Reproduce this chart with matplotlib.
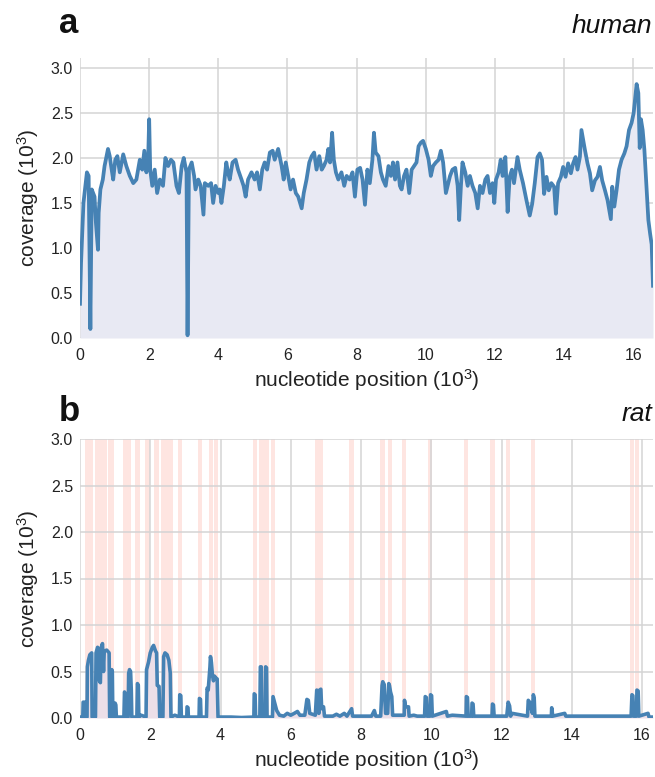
import matplotlib
matplotlib.use('Agg')
import matplotlib.pyplot as plt
import numpy as np

plt.rcParams['font.family'] = ['Liberation Sans', 'DejaVu Sans']
plt.rcParams['mathtext.fontset'] = 'custom'
plt.rcParams['mathtext.rm'] = 'Liberation Sans'
plt.rcParams['mathtext.it'] = 'Liberation Sans:italic'

# human mtDNA coverage (position in nt, coverage in 10^3)
human_pos = [0, 30, 100, 200, 250, 300, 340, 420, 460, 520, 540, 590, 660, 710, 810, 860, 900,
             960, 1020, 1080, 1150, 1250, 1340, 1440, 1540, 1630, 1730, 1800, 1860, 1920, 1970,
             2000, 2030, 2090, 2160, 2230, 2310, 2400, 2470, 2550, 2630, 2700, 2790, 2860, 2940,
             3000, 3080, 3110, 3150, 3230, 3300, 3340, 3420, 3490, 3570, 3610, 3710, 3790, 3850,
             3920, 4000, 4040, 4090, 4160, 4230, 4280, 4330, 4410, 4500, 4570, 4670, 4730, 4790,
             4860, 4960, 5050, 5120, 5200, 5270, 5340, 5410, 5490, 5570, 5630, 5730, 5830, 5890,
             5950, 6020, 6090, 6160, 6240, 6310, 6410, 6470, 6550, 6630, 6700, 6770, 6840, 6920,
             6990, 7050, 7130, 7180, 7230, 7290, 7340, 7400, 7470, 7560, 7640, 7710, 7800, 7880,
             7950, 8020, 8100, 8170, 8240, 8310, 8380, 8455, 8500, 8550, 8630, 8700, 8760, 8840,
             8920, 8990, 9050, 9110, 9180, 9250, 9300, 9370, 9440, 9520, 9590, 9660, 9730, 9790,
             9855, 9920, 10000, 10080, 10145, 10210, 10290, 10370, 10435, 10500, 10580, 10630,
             10700, 10770, 10850, 10920, 10965, 11015, 11060, 11140, 11210, 11275, 11350, 11430,
             11500, 11565, 11640, 11720, 11785, 11855, 11930, 11980, 12030, 12105, 12165, 12220,
             12300, 12365, 12425, 12490, 12550, 12650, 12715, 12810, 12910, 13005, 13075, 13150,
             13230, 13295, 13360, 13420, 13490, 13555, 13630, 13710, 13760, 13825, 13905, 13970,
             14040, 14115, 14195, 14260, 14330, 14385, 14455, 14500, 14550, 14600, 14675, 14745,
             14810, 14890, 14965, 15035, 15100, 15180, 15255, 15350, 15390, 15450, 15515, 15585,
             15660, 15740, 15805, 15875, 15950, 16010, 16050, 16095, 16145, 16185, 16220, 16270,
             16320, 16385, 16435, 16485, 16530, 16569]
human_cov = [0.38, 0.83, 1.50, 1.84, 1.80, 0.10, 1.65, 1.57, 1.28, 0.98, 1.39, 1.65, 1.76, 1.91, 2.10, 2.02, 1.91,
             1.76, 1.98, 2.02, 1.84, 2.04, 1.91, 1.80, 1.72, 1.76, 1.98, 1.87, 2.08, 1.84, 1.98,
             2.43, 1.87, 1.69, 1.87, 1.61, 1.76, 1.69, 2.00, 1.91, 1.98, 1.95, 1.69, 1.61, 1.91,
             2.00, 1.84, 0.03, 1.87, 1.95, 1.80, 1.65, 1.76, 1.69, 1.37, 1.72, 1.69, 1.72, 1.50,
             1.69, 1.61, 1.65, 1.50, 1.69, 1.95, 1.84, 1.76, 1.95, 1.98, 1.87, 1.76, 1.69, 1.57,
             1.76, 1.84, 1.76, 1.84, 1.65, 1.87, 1.95, 1.87, 2.06, 2.08, 1.98, 2.10, 1.91, 1.76,
             1.95, 1.80, 1.65, 1.76, 1.61, 1.57, 1.44, 1.61, 1.76, 1.95, 2.02, 2.06, 1.87, 2.02,
             1.87, 1.91, 1.98, 2.10, 1.95, 2.28, 1.98, 1.84, 1.76, 1.84, 1.69, 1.80, 1.76, 1.84,
             1.57, 1.87, 1.89, 1.76, 1.48, 1.87, 1.72, 1.98, 2.28, 2.06, 2.02, 1.84, 1.76, 1.69,
             1.91, 1.80, 1.95, 1.76, 1.95, 1.69, 1.65, 1.80, 1.87, 1.61, 1.87, 1.91, 1.95, 2.13,
             2.17, 2.19, 2.10, 1.98, 1.80, 1.91, 1.95, 1.98, 2.08, 1.95, 1.61, 1.69,
             1.80, 1.87, 1.89, 1.69, 1.31, 1.69, 1.95, 1.84, 1.69, 1.80, 1.69, 1.61,
             1.44, 1.69, 1.61, 1.76, 1.80, 1.61, 1.72, 1.50, 1.76, 1.84, 1.98, 1.80,
             2.01, 1.40, 1.79, 1.87, 1.72, 2.01, 1.87, 1.72, 1.53, 1.36, 1.49, 1.72,
             2.01, 2.05, 1.98, 1.60, 1.79, 1.64, 1.72, 1.68, 1.38, 1.72, 1.79, 1.90,
             1.79, 1.94, 1.83, 1.94, 2.01, 1.87, 2.01, 2.31, 2.20, 2.09, 1.94, 1.83,
             1.64, 1.75, 1.79, 1.90, 1.75, 1.64, 1.53, 1.32, 1.68, 1.46, 1.64, 1.87,
             1.98, 2.05, 2.13, 2.31, 2.39, 2.50, 2.65, 2.82, 2.72, 2.11, 2.43, 2.31,
             2.09, 1.64, 1.31, 1.16, 1.04, 0.58]

# rat mtDNA coverage (position in nt, coverage in 10^3)
rat_pos = [0, 80, 90, 150, 165, 200, 210, 240, 280, 333, 345, 440, 457, 500, 540, 552, 580, 600, 640,
           670, 690, 760, 829, 845, 890, 905, 920, 935, 985, 1000, 1020, 1035, 1250, 1267, 1290, 1305,
           1370, 1385, 1410, 1440, 1460, 1475, 1620, 1635, 1660, 1675, 1740, 1880, 1895, 1924, 1950,
           2000, 2060, 2095, 2150, 2180, 2200, 2250, 2270, 2360, 2381, 2420, 2480, 2530, 2571, 2590,
           2700, 2830, 2840, 2870, 2885, 3040, 3048, 3075, 3085, 3390, 3400, 3430, 3445, 3600, 3619,
           3650, 3700, 3714, 3740, 3770, 3800, 3829, 3870, 3905, 3930, 4000, 4300, 4600, 4950, 4960,
           4985, 5000, 5120, 5135, 5160, 5175, 5270, 5285, 5310, 5325, 5480, 5495, 5530, 5600, 5680,
           5800, 5900, 6000, 6100, 6190, 6260, 6400, 6460, 6500, 6540, 6700, 6740, 6780, 6800, 6820,
           6857, 6880, 6933, 6960, 7200, 7300, 7400, 7524, 7600, 7733, 7760, 8000, 8300, 8380, 8420,
           8560, 8600, 8619, 8660, 8700, 8760, 8790, 8810, 8840, 8876, 8900, 9000, 9230, 9238, 9270,
           9352, 9370, 9500, 9600, 9810, 9829, 9860, 9880, 9960, 9981, 10010, 10030, 10429, 10460,
           10600, 10990, 11000, 11030, 11050, 11150, 11162, 11190, 11210, 11730, 11743, 11770, 11790,
           12150, 12190, 12230, 12260, 12300, 12740, 12762, 12800, 12880, 12905, 12930, 12950, 13420,
           13429, 13460, 13800, 13830, 14000, 14500, 15000, 15690, 15714, 15740, 15760, 15840, 15857,
           15890, 15910, 16171, 16200, 16313]
rat_cov = [0.01, 0.01, 0.17, 0.17, 0.01, 0.01, 0.55, 0.62, 0.68, 0.70, 0.01, 0.01, 0.70, 0.76, 0.74, 0.40, 0.38, 0.75, 0.80,
           0.50, 0.72, 0.73, 0.70, 0.01, 0.01, 0.52, 0.50, 0.01, 0.01, 0.16, 0.14, 0.01, 0.01, 0.28, 0.26, 0.01,
           0.01, 0.48, 0.52, 0.50, 0.30, 0.01, 0.01, 0.37, 0.35, 0.01, 0.03, 0.01, 0.52, 0.56, 0.60,
           0.70, 0.76, 0.78, 0.72, 0.70, 0.35, 0.34, 0.01, 0.01, 0.66, 0.70, 0.68, 0.62, 0.48, 0.01,
           0.03, 0.01, 0.25, 0.24, 0.01, 0.01, 0.12, 0.11, 0.01, 0.01, 0.21, 0.20, 0.01, 0.01, 0.32,
           0.30, 0.55, 0.66, 0.60, 0.46, 0.40, 0.45, 0.43, 0.42, 0.01, 0.01, 0.01, 0.005, 0.01, 0.26,
           0.25, 0.01, 0.01, 0.55, 0.55, 0.01, 0.01, 0.55, 0.54, 0.01, 0.01, 0.23, 0.18, 0.08, 0.03,
           0.02, 0.05, 0.03, 0.05, 0.07, 0.03, 0.03, 0.20, 0.19, 0.05, 0.03, 0.30, 0.28, 0.05, 0.30,
           0.31, 0.10, 0.12, 0.02, 0.02, 0.04, 0.02, 0.05, 0.02, 0.10, 0.02, 0.02, 0.02, 0.08, 0.02,
           0.02, 0.35, 0.39, 0.36, 0.05, 0.05, 0.37, 0.35, 0.28, 0.23, 0.03, 0.03, 0.03, 0.19, 0.12,
           0.12, 0.02, 0.03, 0.02, 0.02, 0.23, 0.22, 0.02, 0.02, 0.25, 0.24, 0.02, 0.07, 0.02,
           0.03, 0.02, 0.23, 0.22, 0.02, 0.02, 0.16, 0.15, 0.02, 0.02, 0.15, 0.14, 0.02,
           0.02, 0.17, 0.13, 0.02, 0.05, 0.02, 0.19, 0.17, 0.05, 0.25, 0.22, 0.02, 0.02,
           0.11, 0.02, 0.05, 0.02, 0.02, 0.02, 0.02, 0.02, 0.25, 0.24, 0.02, 0.02, 0.30,
           0.29, 0.02, 0.05, 0.01, 0.01]

# shaded regions in the rat panel (start, end in nt)
rat_band_start = [150, 440, 570, 790, 1220, 1580, 1840, 2120, 2300, 2790, 3360, 3665, 3810, 4915,
                  5095, 5240, 5430, 6695, 7655, 8550, 8760, 9170, 9915, 10930, 11675, 12125, 12835,
                  15650, 15795]
rat_band_end = [380, 570, 760, 970, 1450, 1695, 2000, 2240, 2640, 2905, 3475, 3790, 3925, 5050,
                5230, 5370, 5545, 6925, 7790, 8670, 8875, 9285, 10030, 11050, 11810, 12255, 12950,
                15780, 15920]

line_col = '#4682b4'
fill_col = '#e8e9f3'
grid_col = '#d4d4d4'

fig = plt.figure(figsize=(6.55, 7.77), dpi=100)
ax1 = fig.add_axes([80/655, 1 - 338/777, 573/655, 280/777])
ax2 = fig.add_axes([80/655, 1 - 718/777, 573/655, 279/777])

hx = np.array(human_pos) / 1000
rx = np.array(rat_pos) / 1000

ax1.fill_between(hx, human_cov, color=fill_col, lw=0, zorder=1)
ax1.plot(hx, human_cov, color=line_col, lw=2.7, zorder=3)
ax1.set_xlim(0, 16.569)
ax1.set_ylim(0, 3.11)

for s, e in zip(rat_band_start, rat_band_end):
    ax2.axvspan(s / 1000, e / 1000, color='#fee5e1', lw=0, zorder=0.5)
ax2.fill_between(rx, rat_cov, color='#ecdfe8', lw=0, zorder=1)
ax2.plot(rx, rat_cov, color=line_col, lw=2.6, zorder=3)
ax2.set_xlim(0, 16.313)
ax2.set_ylim(0, 3.0)

for ax in (ax1, ax2):
    ax.set_facecolor('white')
    ax.set_xticks(range(0, 17, 2))
    ax.set_yticks([0, 0.5, 1.0, 1.5, 2.0, 2.5, 3.0])
    ax.set_yticklabels(['0.0', '0.5', '1.0', '1.5', '2.0', '2.5', '3.0'])
    ax.grid(True, color=grid_col, lw=1.1, zorder=0)
    ax.set_axisbelow(True)
    for sp in ax.spines.values():
        sp.set_visible(False)
    ax.tick_params(length=0, labelsize=11.5, colors='#222222')
    ax.tick_params(axis='x', pad=7)
    ax.tick_params(axis='y', pad=5)
    ax.set_xlabel('nucleotide position (10$^3$)', fontsize=15, color='#222222', labelpad=3)
    ax.set_ylabel('coverage (10$^3$)', fontsize=15, color='#222222', labelpad=7)

fig.text(59/655, 1 - 33/777, 'a', fontsize=25, fontweight='bold', color='#111111')
fig.text(652/655, 1 - 33/777, 'human', fontsize=19, style='italic', ha='right', color='#111111')
fig.text(59/655, 1 - 421/777, 'b', fontsize=25, fontweight='bold', color='#111111')
fig.text(652/655, 1 - 421/777, 'rat', fontsize=19, style='italic', ha='right', color='#111111')

fig.savefig('out.png', dpi=100)
